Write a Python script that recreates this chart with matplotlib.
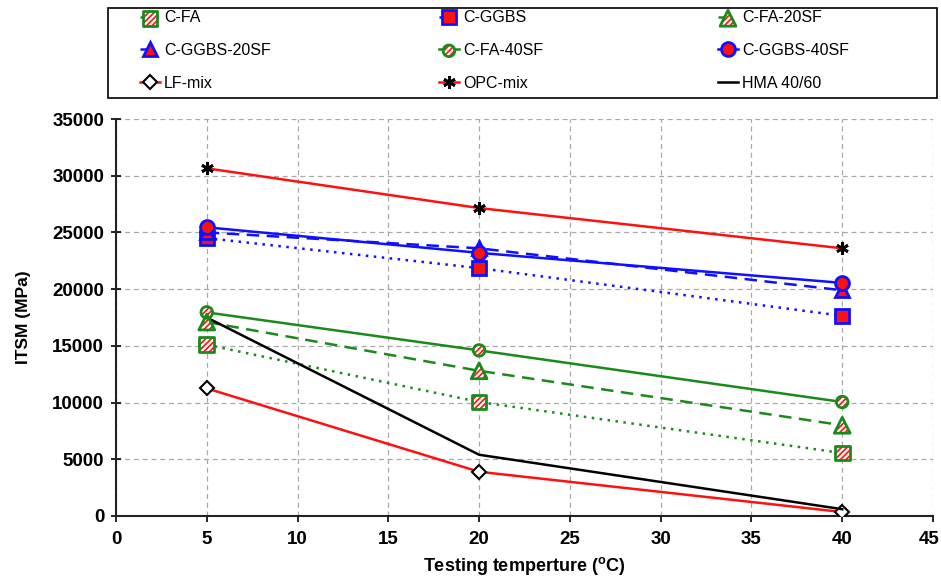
import matplotlib
matplotlib.use("Agg")
import matplotlib.pyplot as plt
import matplotlib.transforms as mtransforms
from matplotlib.legend_handler import HandlerTuple
from matplotlib.patches import Rectangle

plt.rcParams['font.family'] = ['Liberation Sans', 'DejaVu Sans']
plt.rcParams['mathtext.fontset'] = 'custom'
plt.rcParams['mathtext.rm'] = 'Liberation Sans'
plt.rcParams['mathtext.bf'] = 'Liberation Sans:bold'
plt.rcParams['hatch.linewidth'] = 1.2

temps = [5, 20, 40]
c_fa = [15100, 10050, 5550]
c_ggbs = [24500, 21850, 17650]
c_fa_20sf = [17100, 12800, 8000]
c_ggbs_20sf = [25000, 23600, 19900]
c_fa_40sf = [17950, 14600, 10050]
c_ggbs_40sf = [25450, 23200, 20550]
lf_mix = [11250, 3900, 350]
opc_mix = [30650, 27150, 23600]
hma = [17500, 5400, 600]

x_ticks = list(range(0, 50, 5))
y_ticks = list(range(0, 40000, 5000))

fig = plt.figure(figsize=(9.41, 5.80), dpi=100)
ax = fig.add_axes([116/941, 1-516/580, (933-116)/941, (516-119)/580])

GREEN = '#1a8a1a'
BLUE = '#1010ff'
RED = '#ff1010'

handles = {}

def hatched(label, y, ls, marker, size):
    ln, = ax.plot(temps, y, color=GREEN, ls=ls, lw=1.8, zorder=3)
    s1 = ax.scatter(temps, y, s=size, marker=marker, facecolor='white',
                    edgecolor=RED, hatch='//////', linewidths=0, zorder=4)
    s2 = ax.scatter(temps, y, s=size, marker=marker, facecolor='none',
                    edgecolor=GREEN, linewidths=2.0, zorder=5)
    handles[label] = (ln, s1, s2)

def filled(label, y, ls, marker, ms, color, mfc, mec, mew=2.0):
    ln, = ax.plot(temps, y, color=color, ls=ls, lw=1.8, marker=marker, ms=ms,
                  mfc=mfc, mec=mec, mew=mew, zorder=4)
    handles[label] = ln

hatched('C-FA', c_fa, (0, (1, 2.2)), 's', 110)
filled('C-GGBS', c_ggbs, (0, (1, 2.2)), 's', 10, BLUE, RED, BLUE)
hatched('C-FA-20SF', c_fa_20sf, (0, (5, 3)), '^', 130)
filled('C-GGBS-20SF', c_ggbs_20sf, (0, (5, 3)), '^', 10, BLUE, RED, BLUE)
hatched('C-FA-40SF', c_fa_40sf, '-', 'o', 70)
filled('C-GGBS-40SF', c_ggbs_40sf, '-', 'o', 10, BLUE, RED, BLUE)
filled('LF-mix', lf_mix, '-', 'D', 7, RED, 'white', 'black', 1.5)
filled('OPC-mix', opc_mix, '-', (6, 2, 0), 9, RED, 'black', 'black', 2.0)
filled('HMA 40/60', hma, '-', None, 0, 'black', 'black', 'black')

ax.set_xlim(0, 45)
ax.set_ylim(0, 35000)
ax.set_xticks(x_ticks)
ax.set_yticks(y_ticks)
ax.grid(True, color='#a8a8a8', ls=(0, (4, 3)), lw=0.9, zorder=0)
ax.set_axisbelow(True)
for s in ['top', 'right']:
    ax.spines[s].set_visible(False)
for s in ['left', 'bottom']:
    ax.spines[s].set_linewidth(1.5)
    ax.spines[s].set_color('#222222')
ax.tick_params(axis='y', direction='inout', length=7, width=1.2, labelsize=13.5, pad=5)
ax.tick_params(axis='x', direction='out', length=4, width=1.2, labelsize=13.5, pad=7)
for lab in ax.get_xticklabels() + ax.get_yticklabels():
    lab.set_fontweight('bold')
last = ax.get_xticklabels()[-1]
last.set_transform(last.get_transform() +
                   mtransforms.ScaledTranslation(-4/100, 0, fig.dpi_scale_trans))

ax.set_xlabel(r'Testing temperture ($\mathbf{^{o}}$C)', fontsize=13, fontweight='bold', labelpad=5)
ax.set_ylabel('ITSM (MPa)', fontsize=12.5, fontweight='bold', labelpad=15)

# legend frame
fig.add_artist(Rectangle((108/941, 1-98/580), (937-108)/941, 90/580,
                         transform=fig.transFigure, facecolor='white',
                         edgecolor='black', lw=1.2, zorder=1))

columns = [['C-FA', 'C-GGBS-20SF', 'LF-mix'],
           ['C-GGBS', 'C-FA-40SF', 'OPC-mix'],
           ['C-FA-20SF', 'C-GGBS-40SF', 'HMA 40/60']]
col_x = [140, 439, 718]
for xs, names in zip(col_x, columns):
    lg = fig.legend([handles[k] for k in names], names, ncol=1,
                    loc='center left',
                    bbox_to_anchor=(xs/941, 1-50.5/580),
                    bbox_transform=fig.transFigure, borderaxespad=0,
                    fontsize=11.5, frameon=False,
                    handlelength=1.25, handletextpad=0.25, labelspacing=1.1,
                    borderpad=0, scatterpoints=1,
                    handler_map={tuple: HandlerTuple(ndivide=1)})
    lg.set_zorder(2)

fig.savefig('out.png', dpi=100)
